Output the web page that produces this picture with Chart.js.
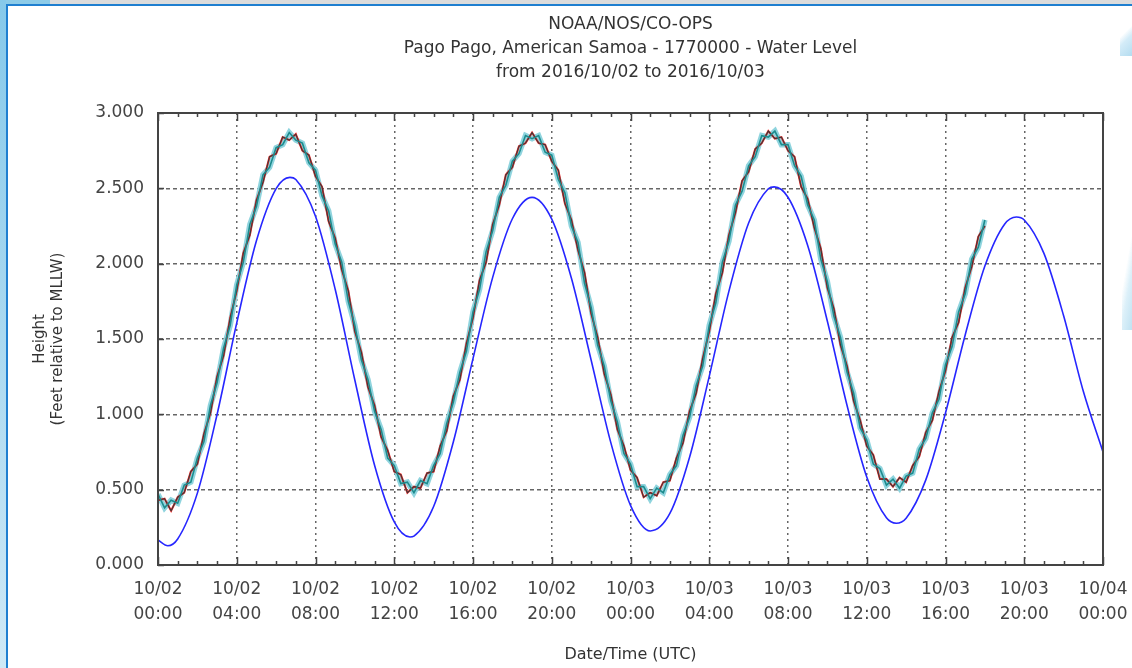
<!DOCTYPE html>
<html>
<head>
<meta charset="utf-8">
<script src="https://cdn.jsdelivr.net/npm/chart.js@4.4.0/dist/chart.umd.min.js"></script>
<style>
  html, body { margin: 0; padding: 0; background: #fff; overflow: hidden; }
  #wrap { position: relative; width: 1132px; height: 668px; }
  #tide { position: absolute; left: 0; top: 0; }
  .deco { position: absolute; pointer-events: none; }
</style>
</head>
<body>
<div id="wrap">
  <canvas id="tide" width="1132" height="668"></canvas>
  <div class="deco" style="left:0;top:0;width:50px;height:4px;background:#8ccbe8"></div>
  <div class="deco" style="left:50px;top:0;width:1082px;height:4px;background:#dcdcdc"></div>
  <div class="deco" style="left:6px;top:4px;width:1126px;height:2px;background:#1f7fd0"></div>
  <div class="deco" style="left:0;top:0;width:6px;height:668px;background:linear-gradient(#86c9ea,#cfe9f6)"></div>
  <div class="deco" style="left:6px;top:4px;width:2px;height:664px;background:#1f7fd0"></div>
  <div class="deco" style="left:1120px;top:6px;width:12px;height:50px;background:linear-gradient(135deg,rgba(255,255,255,0) 50%,#d4ecf8 65%,#b4dcf0)"></div>
  <div class="deco" style="left:1122px;top:210px;width:10px;height:120px;background:linear-gradient(100deg,rgba(255,255,255,0) 45%,#dcf0f9 65%,#c0e2f2)"></div>
</div>
<script>
// hours since 2016/10/02 00:00 UTC
const titleLines = ["NOAA/NOS/CO-OPS", "Pago Pago, American Samoa - 1770000 - Water Level", "from 2016/10/02 to 2016/10/03"];
const tickDates = ["10/02", "10/02", "10/02", "10/02", "10/02", "10/02", "10/03", "10/03", "10/03", "10/03", "10/03", "10/03", "10/04"];
const tickTimes = ["00:00", "04:00", "08:00", "12:00", "16:00", "20:00", "00:00", "04:00", "08:00", "12:00", "16:00", "20:00", "00:00"];

// predicted tide (blue)
const predTimes = [0, 0.5, 1, 2, 3, 4, 5, 6, 6.7, 7, 8, 9, 10, 11, 12, 12.8, 13, 14, 15, 16, 17, 18, 19, 20, 21, 22, 23, 24, 25, 26, 27, 28, 29, 30, 31, 31.3, 32, 33, 34, 35, 36, 37, 37.5, 38, 39, 40, 41, 42, 43, 43.6, 44, 45, 46, 47, 48];
const predLevels = [0.166, 0.128, 0.173, 0.477, 0.999, 1.607, 2.152, 2.498, 2.573, 2.559, 2.315, 1.830, 1.226, 0.662, 0.286, 0.186,
  0.192, 0.388, 0.816, 1.370, 1.909, 2.298, 2.440, 2.296, 1.903, 1.361, 0.812, 0.396, 0.226, 0.342, 0.715, 1.252, 1.818, 2.270, 2.497,
  2.510, 2.441, 2.121, 1.618, 1.059, 0.584, 0.313, 0.277, 0.311, 0.565, 1.009, 1.527, 1.984, 2.262, 2.310, 2.290, 2.068, 1.654, 1.153, 0.750];

// observed water level, one value every 20 minutes
const obsStep = 1 / 3;
const obsPrimary = [0.47, 0.38, 0.43, 0.41, 0.53, 0.55, 0.71, 0.82, 1.06, 1.21, 1.44, 1.59,
  1.86, 2.01, 2.26, 2.38, 2.59, 2.64, 2.77, 2.79, 2.87, 2.82, 2.80, 2.67,
  2.62, 2.45, 2.35, 2.13, 2.01, 1.75, 1.59, 1.36, 1.23, 1.02, 0.90, 0.71,
  0.66, 0.54, 0.55, 0.48, 0.56, 0.54, 0.66, 0.74, 0.94, 1.08, 1.28, 1.42,
  1.68, 1.83, 2.08, 2.22, 2.44, 2.52, 2.68, 2.73, 2.85, 2.83, 2.85, 2.74,
  2.72, 2.56, 2.47, 2.25, 2.14, 1.87, 1.71, 1.46, 1.32, 1.09, 0.95, 0.74,
  0.67, 0.52, 0.52, 0.44, 0.51, 0.48, 0.60, 0.66, 0.86, 0.98, 1.19, 1.32,
  1.59, 1.74, 2.01, 2.15, 2.39, 2.48, 2.65, 2.71, 2.85, 2.84, 2.88, 2.79,
  2.79, 2.65, 2.58, 2.39, 2.29, 2.03, 1.88, 1.65, 1.51, 1.28, 1.14, 0.91,
  0.83, 0.67, 0.64, 0.53, 0.57, 0.51, 0.59, 0.61, 0.77, 0.84, 1.01, 1.10,
  1.33, 1.45, 1.68, 1.80, 2.03, 2.11, 2.29];
// backup sensor, same sampling
const obsBackup = [0.43, 0.44, 0.36, 0.45, 0.48, 0.62, 0.67, 0.87, 1.01, 1.25, 1.39, 1.64,
  1.82, 2.07, 2.19, 2.42, 2.54, 2.71, 2.73, 2.84, 2.82, 2.86, 2.75, 2.72,
  2.58, 2.51, 2.28, 2.17, 1.96, 1.82, 1.55, 1.41, 1.18, 1.06, 0.85, 0.76,
  0.62, 0.60, 0.48, 0.52, 0.51, 0.61, 0.62, 0.79, 0.89, 1.12, 1.23, 1.47,
  1.64, 1.89, 2.01, 2.26, 2.39, 2.59, 2.64, 2.78, 2.80, 2.87, 2.80, 2.79,
  2.68, 2.62, 2.40, 2.29, 2.09, 1.94, 1.67, 1.51, 1.27, 1.13, 0.90, 0.79,
  0.63, 0.58, 0.45, 0.48, 0.46, 0.55, 0.56, 0.71, 0.81, 1.02, 1.14, 1.37,
  1.55, 1.80, 1.94, 2.19, 2.34, 2.55, 2.61, 2.76, 2.80, 2.88, 2.83, 2.84,
  2.75, 2.71, 2.51, 2.43, 2.24, 2.10, 1.84, 1.70, 1.46, 1.32, 1.09, 0.96,
  0.79, 0.73, 0.57, 0.57, 0.52, 0.58, 0.55, 0.66, 0.72, 0.88, 0.96, 1.15,
  1.29, 1.51, 1.61, 1.84, 1.98, 2.18, 2.25];

const toPoints = (xs, ys) => ys.map((y, i) => ({ x: xs[i], y: y }));
const stepPoints = (ys) => ys.map((y, i) => ({ x: i * obsStep, y: y }));

const fontFamily = "'DejaVu Sans', sans-serif";

// frame + inward tick marks like the gnuplot original
const frameTicks = {
  id: "frameTicks",
  afterDraw(chart) {
    const { ctx, chartArea: a, scales } = chart;
    ctx.save();
    ctx.strokeStyle = "#444";
    ctx.lineWidth = 1.5;
    ctx.beginPath();
    for (let h = 0; h <= 48; h++) {
      const x = Math.round(scales.x.getPixelForValue(h)) + 0.5;
      const len = h % 4 === 0 ? 8 : 4;
      ctx.moveTo(x, a.bottom); ctx.lineTo(x, a.bottom - len);
      ctx.moveTo(x, a.top); ctx.lineTo(x, a.top + len);
    }
    for (let v = 0; v <= 3; v += 0.5) {
      const y = Math.round(scales.y.getPixelForValue(v)) + 0.5;
      ctx.moveTo(a.left, y); ctx.lineTo(a.left + 6, y);
    }
    ctx.stroke();
    ctx.lineWidth = 2;
    ctx.strokeRect(a.left, a.top, a.right - a.left, a.bottom - a.top);
    ctx.restore();
  }
};

const lineSet = (label, data, color, width, extra) => Object.assign({
  label: label, data: data, borderColor: color, borderWidth: width,
  pointRadius: 0, fill: false, tension: 0
}, extra || {});

new Chart(document.getElementById("tide"), {
  type: "line",
  data: {
    datasets: [
      lineSet("Observed", stepPoints(obsPrimary), "#1d8b8d", 1.6),
      lineSet("Backup", stepPoints(obsBackup), "#3a3a3a", 1.1),
      lineSet("Backup (red)", stepPoints(obsBackup), "#ff2a2a", 2),
      lineSet("Observed halo", stepPoints(obsPrimary), "#8fd4de", 5.5),
      lineSet("Predicted", toPoints(predTimes, predLevels), "#2626ff", 1.6, { cubicInterpolationMode: "monotone" })
    ]
  },
  options: {
    responsive: false,
    animation: false,
    devicePixelRatio: 1,
    layout: { padding: { left: 0, right: 29, top: 0, bottom: 0 } },
    plugins: {
      legend: { display: false },
      tooltip: { enabled: false },
      title: {
        display: true,
        fullSize: false,
        text: titleLines,
        color: "#333",
        font: { family: fontFamily, size: 17, weight: "normal", lineHeight: 24 / 17 },
        padding: { top: 13, bottom: 28 }
      }
    },
    scales: {
      x: {
        type: "linear",
        min: 0,
        max: 48,
        afterFit: (scale) => {
          scale.height = 103;
          scale.paddingLeft = 0;
          scale.paddingRight = 0;
        },
        ticks: {
          stepSize: 4,
          padding: 12.5,
          color: "#444",
          maxRotation: 0,
          font: { family: fontFamily, size: 17, lineHeight: 25 / 17 },
          callback: (v) => [tickDates[v / 4], tickTimes[v / 4]]
        },
        grid: { color: "#666", lineWidth: 1.5, drawTicks: false },
        border: { display: true, color: "#444", width: 2, dash: [2, 4] },
        title: {
          display: true,
          text: "Date/Time (UTC)",
          color: "#333",
          font: { family: fontFamily, size: 16, lineHeight: 1.2 },
          padding: { top: 0, bottom: 4 }
        }
      },
      y: {
        min: 0,
        max: 3,
        afterFit: (scale) => { scale.width = 158; },
        ticks: {
          stepSize: 0.5,
          padding: 14,
          color: "#444",
          font: { family: fontFamily, size: 17 },
          callback: (v) => v.toFixed(3)
        },
        grid: { color: "#666", lineWidth: 1.5, drawTicks: false },
        border: { display: true, color: "#444", width: 2, dash: [4, 3] },
        title: {
          display: true,
          text: ["Height", "(Feet relative to MLLW)"],
          color: "#333",
          font: { family: fontFamily, size: 15, lineHeight: 1.2 },
          padding: { top: 31, bottom: 0 }
        }
      }
    }
  },
  plugins: [frameTicks]
});
</script>
</body>
</html>
